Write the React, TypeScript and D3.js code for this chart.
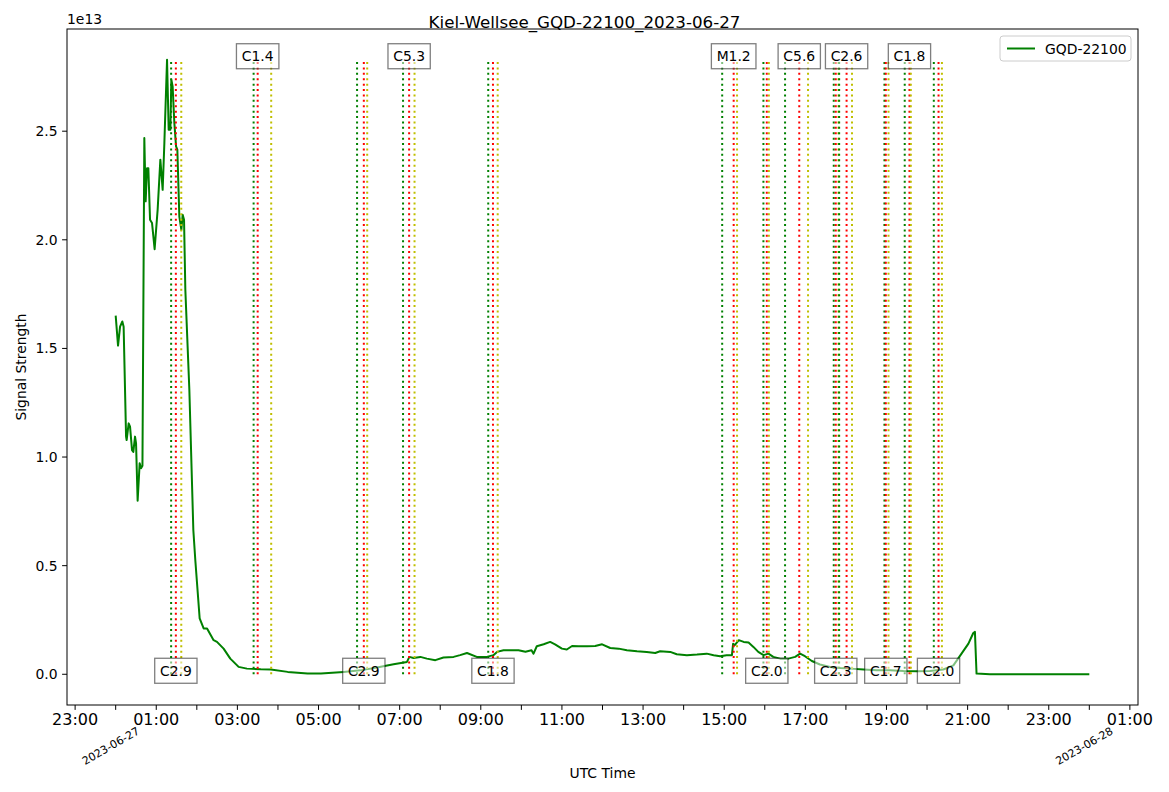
import React, { useEffect, useRef } from 'react';
import * as d3 from 'd3';

const chartTitle = 'Kiel-Wellsee_GQD-22100_2023-06-27';
const seriesName = 'GQD-22100';
const dayStart = Date.UTC(2023, 5, 27);

// hours after 2023-06-27 00:00 UTC
const signalHours = [
  0.0, 0.058, 0.108, 0.164, 0.196, 0.256, 0.27, 0.32, 0.354, 0.403, 0.435, 0.477, 0.502, 0.541,
  0.591, 0.625, 0.66, 0.706, 0.739, 0.773, 0.805, 0.847, 0.896, 0.96, 1.034, 1.101, 1.158, 1.2,
  1.266, 1.306, 1.348, 1.372, 1.404, 1.446, 1.488, 1.52, 1.569, 1.619, 1.651, 1.685, 1.717, 1.816,
  1.914, 1.963, 2.07, 2.168, 2.252, 2.414, 2.497, 2.66, 2.825, 3.03, 3.235, 3.578, 3.824, 4.24,
  4.73, 5.06, 5.62, 6.03, 6.44, 6.85, 7.18, 7.24, 7.34, 7.51, 7.67, 7.88, 8.08, 8.33, 8.49, 8.66,
  8.9, 9.15, 9.31, 9.4, 9.56, 9.72, 9.93, 10.1, 10.25, 10.3, 10.38, 10.55, 10.71, 10.83, 11.0,
  11.12, 11.25, 11.41, 11.62, 11.82, 11.99, 12.19, 12.4, 12.6, 12.85, 13.09, 13.3, 13.42, 13.67,
  13.83, 14.08, 14.33, 14.57, 14.74, 14.9, 15.06, 15.19, 15.22, 15.26, 15.36, 15.48, 15.6, 15.72,
  15.84, 15.97, 16.09, 16.21, 16.38, 16.58, 16.75, 16.87, 16.99, 17.16, 17.36, 17.61, 17.86,
  18.11, 18.44, 18.76, 19.09, 19.42, 19.75, 20.07, 20.4, 20.65, 20.85, 21.02, 21.14, 21.18, 21.22,
  21.55, 24.0,
];

// signal strength, units of 1e13
const signalValues = [
  1.651, 1.513, 1.6, 1.624, 1.6, 1.094, 1.078, 1.155, 1.14, 1.032, 1.024, 1.094, 1.063, 0.799,
  0.971, 0.948, 0.96, 2.469, 2.177, 2.33, 2.33, 2.092, 2.077, 1.957, 2.138, 2.369, 2.23, 2.446,
  2.829, 2.507, 2.507, 2.737, 2.706, 2.538, 2.43, 2.415, 2.107, 2.046, 2.115, 2.092, 1.77, 1.309,
  0.664, 0.525, 0.257, 0.211, 0.211, 0.157, 0.149, 0.118, 0.072, 0.034, 0.026, 0.023, 0.022, 0.011,
  0.003, 0.003, 0.011, 0.018, 0.031, 0.046, 0.057, 0.08, 0.075, 0.08, 0.072, 0.065, 0.077, 0.08,
  0.088, 0.098, 0.08, 0.08, 0.088, 0.103, 0.111, 0.111, 0.111, 0.104, 0.111, 0.095, 0.129, 0.138,
  0.149, 0.138, 0.118, 0.114, 0.13, 0.129, 0.129, 0.13, 0.138, 0.121, 0.118, 0.111, 0.106, 0.103,
  0.098, 0.106, 0.103, 0.092, 0.088, 0.091, 0.095, 0.088, 0.083, 0.088, 0.088, 0.141, 0.134, 0.157,
  0.149, 0.146, 0.126, 0.103, 0.088, 0.095, 0.08, 0.072, 0.072, 0.08, 0.095, 0.083, 0.061, 0.045,
  0.034, 0.029, 0.026, 0.022, 0.018, 0.018, 0.015, 0.014, 0.015, 0.022, 0.041, 0.095, 0.141, 0.19,
  0.195, 0.003, 0.0, 0.0,
];

const flareClasses = ['C2.9', 'C1.4', 'C2.9', 'C5.3', 'C1.8', 'M1.2', 'C2.0', 'C5.6', 'C2.3', 'C2.6', 'C1.7', 'C1.8', 'C2.0'];
const flareStart = ['01:22', '03:24', '05:57', '07:05', '09:11', '14:57', '15:58', '16:30', '17:42', '17:50', '18:57', '19:27', '20:10'];
const flarePeak = ['01:29', '03:30', '06:07', '07:14', '09:18', '15:14', '16:03', '16:51', '17:45', '18:01', '18:59', '19:34', '20:17'];
const flareEnd = ['01:37', '03:50', '06:12', '07:22', '09:25', '15:19', '16:06', '17:04', '17:49', '18:09', '19:03', '19:36', '20:22'];

const yTicks = [0, 0.5, 1.0, 1.5, 2.0, 2.5];
const dateLabels = ['2023-06-27', '2023-06-28'];

const hoursToDate = (h: number) => new Date(dayStart + h * 3600 * 1000);
const clockToDate = (s: string) => {
  const [hh, mm] = s.split(':').map(Number);
  return hoursToDate(hh + mm / 60);
};

const FONT = '"DejaVu Sans", sans-serif';

export default function App() {
  const ref = useRef<SVGSVGElement>(null);

  useEffect(() => {
    if (!ref.current) return;
    const width = 1169;
    const height = 792;
    const margin = { top: 29, right: 31, bottom: 87, left: 67 };
    const innerWidth = width - margin.left - margin.right;
    const innerHeight = height - margin.top - margin.bottom;

    const svg = d3.select(ref.current);
    svg.selectAll('*').remove();

    const maxV = d3.max(signalValues) as number;
    const span = 24;
    const x = d3.scaleUtc()
      .domain([hoursToDate(-0.05 * span), hoursToDate(span * 1.05)])
      .range([0, innerWidth]);
    const y = d3.scaleLinear()
      .domain([-0.05 * maxV, maxV * 1.05])
      .range([innerHeight, 0]);

    svg.append('rect').attr('width', width).attr('height', height).attr('fill', '#fff');

    const g = svg.append('g').attr('transform', `translate(${margin.left},${margin.top})`);

    // signal line
    const pts = signalHours.map((h, i) => [hoursToDate(h), signalValues[i]] as [Date, number]);
    g.append('path')
      .datum(pts)
      .attr('fill', 'none')
      .attr('stroke', '#008000')
      .attr('stroke-width', 2)
      .attr('stroke-linejoin', 'round')
      .attr('d', d3.line<[Date, number]>().x(d => x(d[0])).y(d => y(d[1])));

    // flare markers
    const markerSets: [string[], string][] = [
      [flareStart, '#008000'],
      [flarePeak, '#ff0000'],
      [flareEnd, '#bfbf00'],
    ];
    flareClasses.forEach((_, i) => {
      markerSets.forEach(([arr, color]) => {
        const xx = x(clockToDate(arr[i]));
        g.append('line')
          .attr('x1', xx).attr('x2', xx)
          .attr('y1', y(0)).attr('y2', y(maxV))
          .attr('stroke', color)
          .attr('stroke-width', 2)
          .attr('stroke-dasharray', '2,3.4');
      });
    });

    // flare labels
    flareClasses.forEach((cls, i) => {
      const cx = x(clockToDate(flarePeak[i]));
      const cy = (i % 2 === 0 ? y(0) : y(maxV)) - 3.5;
      const lg = g.append('g');
      const rect = lg.append('rect');
      const t = lg.append('text')
        .attr('x', cx).attr('y', cy + 5)
        .attr('text-anchor', 'middle')
        .attr('font-family', FONT)
        .attr('font-size', 13.9)
        .attr('fill', '#000')
        .text(cls);
      const bb = (t.node() as SVGTextElement).getBBox();
      const w = bb.width + 10.5;
      rect.attr('x', cx - w / 2).attr('y', cy - 12.5)
        .attr('width', w).attr('height', 25)
        .attr('fill', '#fff').attr('fill-opacity', 0.5)
        .attr('stroke', '#000').attr('stroke-opacity', 0.5)
        .attr('stroke-width', 1.3);
    });

    // frame
    g.append('rect')
      .attr('width', innerWidth).attr('height', innerHeight)
      .attr('fill', 'none').attr('stroke', '#000').attr('stroke-width', 1);

    // y axis
    yTicks.forEach(v => {
      const yy = y(v);
      g.append('line').attr('x1', -4.9).attr('x2', 0).attr('y1', yy).attr('y2', yy).attr('stroke', '#000');
      g.append('text')
        .attr('x', -9.5).attr('y', yy + 5)
        .attr('text-anchor', 'end')
        .attr('font-family', FONT).attr('font-size', 13.9)
        .text(v.toFixed(1));
    });
    g.append('text')
      .attr('x', 0).attr('y', -5)
      .attr('font-family', FONT).attr('font-size', 13.9)
      .text('1e13');

    // x axis
    const ticks = d3.utcHour.range(hoursToDate(-1), hoursToDate(25.5));
    const fmt = d3.utcFormat('%H:%M');
    ticks.forEach(d => {
      const xx = x(d);
      g.append('line').attr('x1', xx).attr('x2', xx).attr('y1', innerHeight).attr('y2', innerHeight + 4.9).attr('stroke', '#000');
      if (d.getUTCHours() % 2 === 1) {
        g.append('text')
          .attr('x', xx).attr('y', innerHeight + 19.5)
          .attr('text-anchor', 'middle')
          .attr('font-family', FONT).attr('font-size', 16)
          .text(fmt(d));
      }
    });
    dateLabels.forEach((lbl, i) => {
      const xx = x(hoursToDate(i * 24)) - 5;
      const yy = innerHeight + 41;
      g.append('text')
        .attr('transform', `translate(${xx},${yy}) rotate(-30)`)
        .attr('text-anchor', 'middle')
        .attr('dy', '0.35em')
        .attr('font-family', FONT).attr('font-size', 11)
        .text(lbl);
    });

    // legend
    const lx = innerWidth - 138;
    const legend = g.append('g').attr('transform', `translate(${lx},7)`);
    legend.append('rect')
      .attr('width', 131).attr('height', 25).attr('rx', 3)
      .attr('fill', '#fff').attr('fill-opacity', 0.8)
      .attr('stroke', '#cccccc');
    legend.append('line')
      .attr('x1', 7).attr('x2', 35).attr('y1', 12.5).attr('y2', 12.5)
      .attr('stroke', '#008000').attr('stroke-width', 2);
    legend.append('text')
      .attr('x', 45).attr('y', 17.5)
      .attr('font-family', FONT).attr('font-size', 13.9)
      .text(seriesName);

    // titles
    svg.append('text')
      .attr('x', width / 2).attr('y', 28)
      .attr('text-anchor', 'middle')
      .attr('font-family', FONT).attr('font-size', 16.7)
      .text(chartTitle);
    svg.append('text')
      .attr('x', margin.left + innerWidth / 2).attr('y', 778)
      .attr('text-anchor', 'middle')
      .attr('font-family', FONT).attr('font-size', 13.9)
      .text('UTC Time');
    svg.append('text')
      .attr('transform', `translate(26,${margin.top + innerHeight / 2}) rotate(-90)`)
      .attr('text-anchor', 'middle')
      .attr('font-family', FONT).attr('font-size', 13.9)
      .text('Signal Strength');
  }, []);

  return (
    <svg
      ref={ref}
      width={1169}
      height={792}
      style={{ position: 'absolute', left: 0, top: 0 }}
    />
  );
}
